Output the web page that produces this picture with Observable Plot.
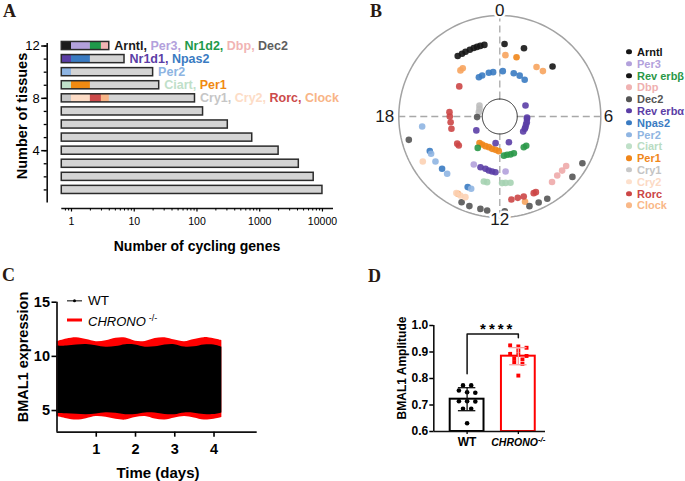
<!DOCTYPE html>
<html><head><meta charset="utf-8">
<script src="https://cdn.jsdelivr.net/npm/d3@7"></script>
<script src="https://cdn.jsdelivr.net/npm/@observablehq/plot@0.6"></script>
<style>
html,body{margin:0;padding:0;background:#fff;}
#fig{position:relative;width:685px;height:481px;overflow:hidden;background:#fff;font-family:"Liberation Sans",Arial,sans-serif;color:#000;}
.panel{position:absolute;}
.plet{position:absolute;font-family:"Liberation Serif","Times New Roman",serif;font-weight:bold;font-size:18px;line-height:1;color:#2a1a12;}
.vt{position:absolute;transform:translate(-50%,-50%) rotate(-90deg);white-space:nowrap;font-weight:bold;line-height:1;}
.ht{position:absolute;transform:translate(-50%,-50%);white-space:nowrap;font-weight:bold;line-height:1;}
.lg{position:absolute;transform:translateY(-50%);white-space:nowrap;line-height:1;}
</style></head><body><div id="fig"></div><script>
// ---------------- Panel A data ----------------
const tissueCounts = [12, 11, 10, 9, 8, 7, 6, 5, 4, 3, 2, 1];
const cyclingGenes = [4, 7, 20, 25, 93, 125, 310, 760, 2000, 4200, 7250, 10000];
const segTissue = [12, 12, 12, 12, 11, 11, 10, 9, 9, 8, 8, 8, 8];
const segGene = ["Arntl", "Per3", "Nr1d2", "Dbp", "Nr1d1", "Npas2", "Per2", "Ciart", "Per1", "Cry1", "Cry2", "Rorc", "Clock"];
const labelTissue = [12, 11, 10, 9, 8];
const labelGenes = [["Arntl", "Per3", "Nr1d2", "Dbp", "Dec2"], ["Nr1d1", "Npas2"], ["Per2"], ["Ciart", "Per1"], ["Cry1", "Cry2", "Rorc", "Clock"]];
const xTicksA = [1, 10, 100, 1000, 10000];
const yTicksA = [4, 8, 12];

// ---------------- Panel B data ----------------
const bGenes = ["Arntl", "Clock", "Per1", "Npas2", "Per2", "Rorc", "Dbp", "Cry1", "Dec2", "Rev erbα", "Per3", "Rev erbβ", "Ciart", "Cry2"];
const bPhases = [
  [21.68, 21.93, 22.14, 22.39, 22.61, 22.79, 22.97, 23.19, 0.25, 1.3, 3.1],
  [21.3, 21.5, 0.35, 2.44, 2.9, 10.9, 13.9],
  [1.05, 14.5, 14.15, 13.72, 13.31, 12.89, 12.49, 12.11],
  [22.13, 22.45, 23.06, 23.43, 0.25, 1.19, 1.73, 2.27, 16.25, 15.19, 13.63],
  [17.51, 16.1, 15.67, 14.84, 13.44],
  [20.44, 18.33, 18.0, 17.56, 17.05, 15.83, 15.65, 11.47, 11.17, 10.89, 10.41, 10.3],
  [9.43, 9.05, 8.73, 8.45],
  [19.9, 19.38, 18.78],
  [17.9, 17.04, 13.6, 13.25, 12.79, 12.51, 11.8, 10.78, 10.38, 10.0, 8.65, 7.97],
  [4.45, 6.14, 6.33, 6.79, 7.13, 7.52, 7.75, 8.18, 15.96, 12.6, 10.7, 13.39, 13.02, 12.77, 12.53, 12.3],
  [13.9, 11.6],
  [14.34, 11.6, 11.28, 10.95, 10.6, 9.47, 9.19],
  [12.92, 12.73, 11.87, 11.67, 11.39],
  [15.98, 13.97, 13.77, 13.54]
];
const bRadii = [
  [0.73, 0.725, 0.725, 0.725, 0.725, 0.725, 0.725, 0.725, 0.72, 0.717, 0.72],
  [0.6, 0.603, 0.61, 0.61, 0.62, 0.88, 0.87],
  [0.61, 0.33, 0.328, 0.326, 0.322, 0.329, 0.333, 0.343],
  [0.44, 0.442, 0.446, 0.444, 0.45, 0.45, 0.45, 0.44, 0.773, 0.771, 0.768],
  [0.775, 0.774, 0.777, 0.77, 0.77],
  [0.5, 0.5, 0.495, 0.49, 0.494, 0.5, 0.497, 0.83, 0.825, 0.827, 0.83, 0.83],
  [0.83, 0.815, 0.817, 0.82],
  [0.229, 0.215, 0.212],
  [0.225, 0.93, 0.93, 0.937, 0.935, 0.939, 0.94, 0.935, 0.935, 0.94, 0.935, 0.94],
  [0.277, 0.27, 0.27, 0.273, 0.272, 0.275, 0.276, 0.275, 0.27, 0.267, 0.27, 0.537, 0.537, 0.545, 0.55, 0.553],
  [0.54, 0.547],
  [0.38, 0.39, 0.386, 0.39, 0.389, 0.386, 0.39],
  [0.663, 0.662, 0.66, 0.66, 0.665],
  [0.883, 0.872, 0.874, 0.868]
];
const hourMarks = [0, 6, 12, 18];
const legendB = ["Arntl", "Per3", "Rev erbβ", "Dbp", "Dec2", "Rev erbα", "Npas2", "Per2", "Ciart", "Per1", "Cry1", "Cry2", "Rorc", "Clock"];

// ---------------- Panel C data ----------------
const cDays   = [0, 0.25, 0.5, 0.75, 1, 1.25, 1.5, 1.75, 2, 2.25, 2.5, 2.75, 3, 3.25, 3.5, 3.75, 4, 4.2];
const koUpper = [11.35, 11.6, 11.72, 11.55, 11.36, 11.45, 11.68, 11.7, 11.4, 11.38, 11.65, 11.72, 11.5, 11.35, 11.55, 11.73, 11.62, 11.45];
const koLower = [4.45, 4.25, 4.12, 4.25, 4.45, 4.38, 4.2, 4.12, 4.35, 4.45, 4.22, 4.12, 4.3, 4.45, 4.3, 4.12, 4.2, 4.35];
const wtUpper = [10.92, 10.95, 11.05, 11.1, 10.98, 10.84, 10.9, 11.08, 11.05, 10.85, 10.88, 11.05, 11.08, 10.86, 10.88, 11.05, 11.05, 10.85];
const wtLower = [4.72, 4.7, 4.65, 4.6, 4.68, 4.8, 4.75, 4.62, 4.63, 4.78, 4.77, 4.64, 4.62, 4.78, 4.76, 4.64, 4.63, 4.78];
const xTicksC = [1, 2, 3, 4];
const yTicksC = [5, 10, 15];

// ---------------- Panel D data ----------------
const groupNames = ["WT", "CHRONO"];
const wtAmplitude = [0.774, 0.774, 0.755, 0.748, 0.746, 0.714, 0.714, 0.713, 0.686, 0.686, 0.631];
const chronoAmplitude = [0.925, 0.921, 0.916, 0.905, 0.893, 0.890, 0.885, 0.876, 0.872, 0.862, 0.855, 0.811];
const yTicksD = [0.6, 0.7, 0.8, 0.9, 1.0];
const sigLevel = 0.968;
const sigText = "****";

// ---------------- styles ----------------
const geneColor = {Arntl:"#1a1a1a", Per3:"#b3a1dc", Nr1d2:"#1e9a4a", Dbp:"#f1b4b4", Dec2:"#5e5e5e", Nr1d1:"#5b3ea6", Npas2:"#3a7bc2", Per2:"#8db4e2", Ciart:"#c0e0c9", Per1:"#f08a12", Cry1:"#c6c6c6", Cry2:"#fddcc6", Rorc:"#cc4a4a", Clock:"#f8b486"};
const pointColor = {Arntl:"#151515", Clock:"#f7a45e", Per1:"#f0861a", Npas2:"#3a7bc2", Per2:"#8fb5e2", Rorc:"#cc4646", Dbp:"#eeaaaa", Cry1:"#bcbcbc", Dec2:"#555555", "Rev erbα":"#5b3ea6", Per3:"#b3a1dc", "Rev erbβ":"#2a9848", Ciart:"#a6d3b2", Cry2:"#fcd2b4"};
const legendDot = Object.assign({}, pointColor, {"Rev erbβ":"#151515", Dbp:"#f0b2b2", Ciart:"#bfe0c8", Cry1:"#c8c8c8", Cry2:"#fde0cc", Clock:"#f9b888"});
const legendText = Object.assign({}, pointColor, {Dbp:"#efb0b0", Ciart:"#b9dcc3", Cry1:"#c4c4c4", Cry2:"#fcd9c4", Clock:"#f9b888"});
const FONT = "'Liberation Sans',Arial,sans-serif";
const svgStyle = `background:transparent;overflow:visible;font-family:${FONT};`;

const fig = document.getElementById("fig");
function place(node, left, top, w, h) {
  const d = document.createElement("div");
  d.className = "panel";
  Object.assign(d.style, {left: left + "px", top: top + "px", width: w + "px", height: h + "px"});
  d.appendChild(node); fig.appendChild(d); return d;
}
function addText(html, cls, left, top, css) {
  const d = document.createElement("div");
  d.className = cls; d.innerHTML = html;
  d.style.left = left + "px"; d.style.top = top + "px";
  Object.assign(d.style, css || {});
  fig.appendChild(d); return d;
}
function textsWith(svg, content) {
  return d3.select(svg).selectAll("text").filter(function() { return this.textContent === content; });
}

// ================= Panel A =================
const xStartA = 0.41, xEndA = 15000, xBarBase = 0.7;
const yStartA = -0.42, yEndA = 12.2, halfBar = 0.31;
const barsA = tissueCounts.map((n, i) => ({n, genes: cyclingGenes[i]}));
const segsA = segTissue.map((n, i) => {
  const k = segTissue.slice(0, i).filter(t => t === n).length;
  const total = cyclingGenes[tissueCounts.indexOf(n)];
  return {n, gene: segGene[i], x1: k === 0 ? xBarBase : k, x2: Math.min(k + 1, total)};
});
const labelsA = labelTissue.map((n, i) => ({n, total: cyclingGenes[tissueCounts.indexOf(n)], words: labelGenes[i], text: labelGenes[i].join(", ")}));
const minorA = xTicksA.slice(0, 4).flatMap(d => d3.range(2, 10).map(k => k * d)).concat([0.8, 0.9]);

const plotA = Plot.plot({
  width: 345, height: 250,
  marginLeft: 46.7, marginRight: 12, marginTop: 42.9, marginBottom: 42,
  style: svgStyle,
  x: {type: "log", domain: [xStartA, xEndA], label: null},
  y: {domain: [yStartA, yEndA], label: null},
  color: {type: "ordinal", domain: segGene, range: segGene.map(g => geneColor[g])},
  marks: [
    Plot.rect(barsA, {x1: xBarBase, x2: "genes", y1: d => d.n - halfBar, y2: d => d.n + halfBar, fill: "#d4d4d4"}),
    Plot.rect(segsA, {x1: "x1", x2: "x2", y1: d => d.n - halfBar, y2: d => d.n + halfBar, fill: "gene"}),
    Plot.rect(barsA, {x1: xBarBase, x2: "genes", y1: d => d.n - halfBar, y2: d => d.n + halfBar, fill: "none", stroke: "#2b2b2b", strokeWidth: 1.5}),
    Plot.text(labelsA, {x: "total", y: "n", text: "text", dx: 5, textAnchor: "start", fontWeight: "bold", fontSize: 12.5}),
    Plot.ruleX([xStartA], {y1: 0, y2: yEndA, strokeWidth: 1.6, stroke: "#111"}),
    Plot.ruleY([yStartA], {x1: xBarBase, x2: xEndA, strokeWidth: 1.4, stroke: "#111"}),
    Plot.axisY(d3.range(1, 13), {tickSize: 3, tickFormat: () => "", label: null, strokeWidth: 1.3}),
    Plot.axisY(yTicksA, {tickSize: 5.5, tickPadding: 2, fontSize: 13, label: null, strokeWidth: 1.5}),
    Plot.axisX(minorA, {tickSize: 2.5, tickFormat: () => "", label: null, strokeWidth: 1}),
    Plot.axisX(xTicksA, {tickSize: 3.5, tickPadding: 6, fontSize: 10.5, tickFormat: d => String(d), label: null, strokeWidth: 1.2})
  ]
});
labelsA.forEach(d => {
  textsWith(plotA, d.text).each(function() {
    const t = d3.select(this); t.text(null);
    d.words.forEach((w, j) => t.append("tspan").attr("fill", geneColor[w]).style("fill", geneColor[w]).text(w + (j < d.words.length - 1 ? ", " : "")));
  });
});
place(plotA, 0, 0, 345, 250);
addText("A", "plet", 3, 2);
addText("Number of tissues", "vt", 22, 116, {fontSize: "14.5px"});
addText("Number of cycling genes", "ht", 197, 246, {fontSize: "14px"});

// ================= Panel B =================
const innerR = 0.173;
const rad = h => h * Math.PI / 12;
const bRows = bGenes.flatMap((g, gi) => bPhases[gi].map((p, j) => ({gene: g, x: bRadii[gi][j] * Math.sin(rad(p)), y: bRadii[gi][j] * Math.cos(rad(p))})));
const circle = r => d3.range(0, 361, 2).map(a => ({x: r * Math.sin(a * Math.PI / 180), y: r * Math.cos(a * Math.PI / 180)}));
const hourR = {0: 1.05, 6: 1.075, 12: 1.025, 18: 1.14};
const dash = {stroke: "#a8a8a8", strokeWidth: 1.3, strokeDasharray: "7,4"};
const hourOpts = {x: h => hourR[h] * Math.sin(rad(h)), y: h => hourR[h] * Math.cos(rad(h)), text: h => String(h), fontSize: 17};
const plotB = Plot.plot({
  width: 250, height: 250,
  marginLeft: 23.3, marginRight: 24.7, marginTop: 15, marginBottom: 33,
  style: svgStyle,
  x: {domain: [-1, 1], axis: null, label: null},
  y: {domain: [-1, 1], axis: null, label: null},
  color: {type: "ordinal", domain: bGenes, range: bGenes.map(g => pointColor[g])},
  marks: [
    Plot.line(circle(1), {x: "x", y: "y", stroke: "#a3a3a3", strokeWidth: 1.5}),
    Plot.ruleY([0], {x1: -1, x2: -innerR, ...dash}),
    Plot.ruleY([0], {x1: innerR, x2: 1, ...dash}),
    Plot.ruleX([0], {y1: innerR, y2: 1, ...dash}),
    Plot.ruleX([0], {y1: -1, y2: -innerR, ...dash}),
    Plot.line(circle(innerR), {x: "x", y: "y", stroke: "#222", strokeWidth: 1}),
    Plot.dot(bRows, {x: "x", y: "y", r: 3.3, fill: "gene", fillOpacity: 0.9}),
    Plot.text(hourMarks, {...hourOpts, fill: "white", stroke: "white", strokeWidth: 5}),
    Plot.text(hourMarks, {...hourOpts, fill: "#1a1a1a"})
  ]
});
place(plotB, 375, 0, 250, 250);
addText("B", "plet", 370, 2);
legendB.forEach((g, i) => {
  const y = 52 + i * 11.8;
  addText("", "lg", 626.3, y, {width: "5.4px", height: "5.4px", borderRadius: "50%", background: legendDot[g]});
  addText(g, "lg", 637, y, {fontSize: "11px", fontWeight: "bold", color: legendText[g]});
});

// ================= Panel C =================
const cRows = cDays.map((d, i) => ({day: d, wtLow: wtLower[i], wtHigh: wtUpper[i], koLow: koLower[i], koHigh: koUpper[i]}));
const xEndC = 5.1, yStartC = 3, yEndC = 15;
const plotC = Plot.plot({
  width: 300, height: 221,
  marginLeft: 56.5, marginRight: 43.3, marginTop: 41.7, marginBottom: 49.3,
  style: svgStyle,
  x: {domain: [0, xEndC], label: null},
  y: {domain: [yStartC, yEndC], label: null},
  marks: [
    Plot.areaY(cRows, {x: "day", y1: "koLow", y2: "koHigh", fill: "#ff0000", curve: "catmull-rom"}),
    Plot.areaY(cRows, {x: "day", y1: "wtLow", y2: "wtHigh", fill: "#000000", curve: "catmull-rom"}),
    Plot.ruleX([0], {y1: yStartC, y2: yEndC, strokeWidth: 1.7, stroke: "#111"}),
    Plot.ruleY([yStartC], {x1: 0, x2: xEndC, strokeWidth: 1.7, stroke: "#111"}),
    Plot.axisY(yTicksC, {tickSize: 5, tickPadding: 2, fontSize: 14.5, fontWeight: "bold", label: null, strokeWidth: 1.6}),
    Plot.axisX(xTicksC, {tickSize: 5, tickPadding: 7, fontSize: 14.5, fontWeight: "bold", label: null, strokeWidth: 1.6})
  ]
});
place(plotC, 0, 260, 300, 221);
addText("C", "plet", 2, 266);
addText("BMAL1 expression", "vt", 22.5, 357, {fontSize: "14.5px"});
addText("Time (days)", "ht", 158, 471.5, {fontSize: "15px"});
// legend C
addText("", "lg", 66.5, 300.5, {width: "15px", height: "1.3px", background: "#000"});
addText("", "lg", 72.5, 300.5, {width: "3.5px", height: "3.5px", borderRadius: "50%", background: "#000"});
addText("WT", "lg", 88, 300.5, {fontSize: "13.5px"});
addText("", "lg", 66.5, 320, {width: "15px", height: "3px", background: "#ff0000"});
addText('<i>CHRONO</i><span style="font-size:9px;position:relative;top:-5px;margin-left:3px;">-/-</span>', "lg", 88, 320.5, {fontSize: "13px"});

// ================= Panel D =================
const xStartD = 0.35, xEndD = 2.53, yStartD = 0.6, yEndD = 1.0, halfW = 0.33, capW = 0.17;
function swarm(vals, pos) {
  const rows = [];
  vals.slice().sort((a, b) => b - a).forEach(v => {
    const r = rows[rows.length - 1];
    if (r && r[0] - v < 0.012 && r.length < 3) r.push(v); else rows.push([v]);
  });
  return rows.flatMap(r => r.map((v, k) => ({v, x: pos + (k - (r.length - 1) / 2) * 0.16})));
}
const groupsD = [
  {name: groupNames[0], pos: 1, vals: wtAmplitude, color: "#000000", err: "#111111"},
  {name: groupNames[1], pos: 2, vals: chronoAmplitude, color: "#ff0000", err: "#f4a3a3"}
].map(g => ({...g, mean: d3.mean(g.vals), sd: d3.deviation(g.vals)}));
const [gW, gC] = groupsD;
const dotsW = swarm(gW.vals, gW.pos), dotsC = swarm(gC.vals, gC.pos);
const errMarks = g => [
  Plot.ruleX([g], {x: "pos", y1: d => d.mean - d.sd, y2: d => d.mean + d.sd, stroke: g.err, strokeWidth: 1.3}),
  Plot.ruleY([g.mean - g.sd, g.mean + g.sd], {y: d => d, x1: g.pos - capW, x2: g.pos + capW, stroke: g.err, strokeWidth: 1.3})
];
const bracket = [
  {x: gW.pos, y: d3.max(gW.vals) + 0.044},
  {x: gW.pos, y: sigLevel},
  {x: gC.pos, y: sigLevel},
  {x: gC.pos, y: sigLevel - 0.014}
];
const plotD = Plot.plot({
  width: 200, height: 200,
  marginLeft: 53.3, marginRight: 35, marginTop: 55, marginBottom: 39,
  style: svgStyle,
  x: {domain: [xStartD, xEndD], label: null},
  y: {domain: [yStartD, yEndD], label: null},
  marks: [
    Plot.rect([gW], {x1: d => d.pos - halfW, x2: d => d.pos + halfW, y1: yStartD, y2: "mean", fill: "white", stroke: gW.color, strokeWidth: 2}),
    Plot.rect([gC], {x1: d => d.pos - halfW, x2: d => d.pos + halfW, y1: yStartD, y2: "mean", fill: "white", stroke: gC.color, strokeWidth: 2}),
    Plot.dot(dotsW, {x: "x", y: "v", r: 2.3, fill: "#000"}),
    Plot.dot(dotsC, {x: "x", y: "v", r: 2.2, symbol: "square", fill: "#ff0000"}),
    ...errMarks(gW), ...errMarks(gC),
    Plot.line(bracket, {x: "x", y: "y", stroke: "#111", strokeWidth: 1.5}),
    Plot.text([sigText], {x: (gW.pos + gC.pos) / 2, y: sigLevel, dx: 5, dy: -4.5, fontSize: 15, fontWeight: "bold"}),
    Plot.ruleX([xStartD], {y1: yStartD, y2: yEndD, strokeWidth: 1.6, stroke: "#111"}),
    Plot.ruleY([yStartD], {x1: xStartD, x2: xEndD, strokeWidth: 1.6, stroke: "#111"}),
    Plot.axisY(yTicksD, {tickSize: 4, tickPadding: 1.5, fontSize: 12, fontWeight: "bold", tickFormat: d => d.toFixed(1), label: null, strokeWidth: 1.5}),
    Plot.axisX([gW.pos, gC.pos], {tickSize: 3, tickFormat: () => "", label: null, strokeWidth: 1.3}),
    Plot.text(groupsD, {x: "pos", text: "name", frameAnchor: "bottom", dy: 14, fontSize: 12, fontWeight: "bold"})
  ]
});
textsWith(plotD, sigText).attr("letter-spacing", "3px");
textsWith(plotD, "CHRONO").each(function() {
  const t = d3.select(this);
  t.text(null).attr("font-style", "italic").attr("font-size", 10.5).style("font-style", "italic");
  t.append("tspan").text("CHRONO");
  t.append("tspan").attr("font-size", 8).attr("dy", "-0.5em").text("-/-");
});
place(plotD, 380, 270, 200, 200);
addText("D", "plet", 368, 267);
addText("BMAL1 Amplitude", "vt", 402, 368, {fontSize: "12px"});
</script></body></html>
